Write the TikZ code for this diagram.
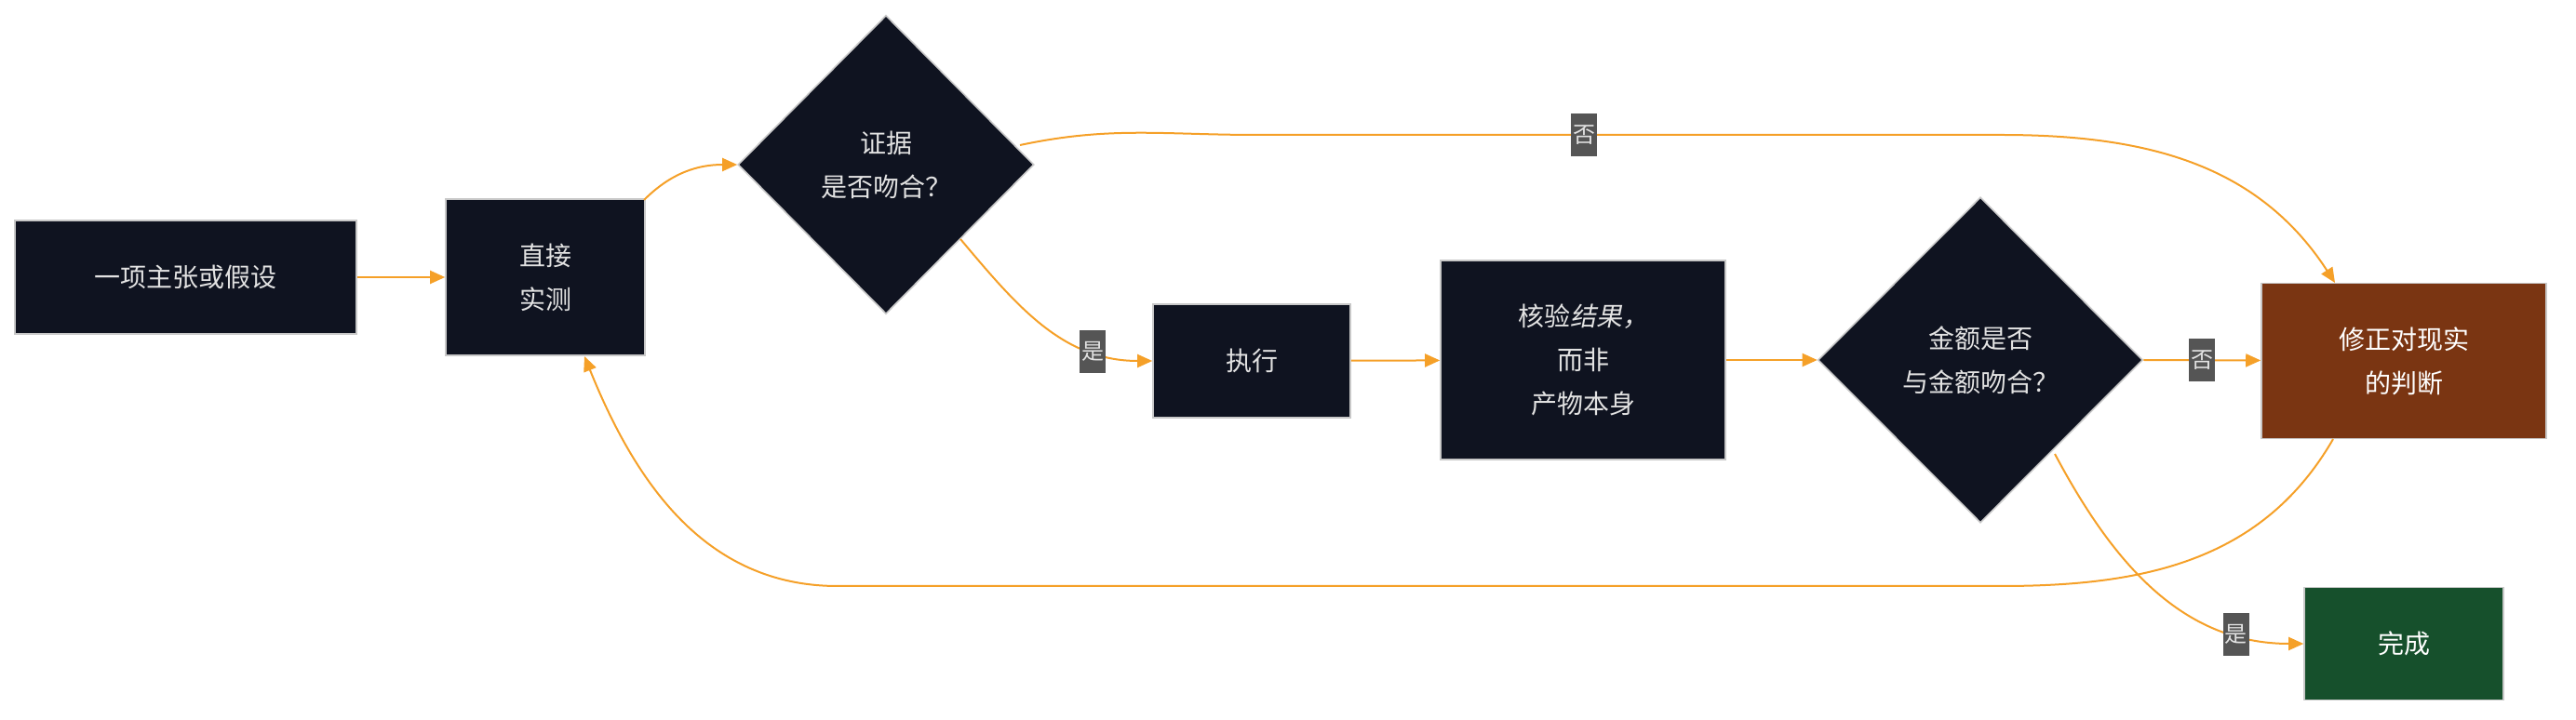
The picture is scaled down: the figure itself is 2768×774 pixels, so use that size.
\documentclass[tikz,border=0pt]{standalone}
\usepackage{fontspec}
\setmainfont{Noto Sans CJK SC}[AutoFakeSlant=0.2]
\usetikzlibrary{shapes.geometric,arrows.meta}
\definecolor{nd}{HTML}{0F1320}
\definecolor{bd}{HTML}{C8C8C8}
\definecolor{tx}{HTML}{E2E2E2}
\definecolor{og}{HTML}{F5A028}
\definecolor{rd}{HTML}{7A3512}
\definecolor{gn}{HTML}{16502C}
\definecolor{lb}{HTML}{555555}
\begin{document}
\begin{tikzpicture}[x=0.5pt,y=-0.5pt,
  box/.style={draw=bd,line width=0.8pt,fill=nd,text=tx,align=center,inner sep=0,font=\fontsize{14}{23.5}\selectfont},
  dia/.style={box,diamond},
  ed/.style={draw=og,line width=1pt,-{Triangle[length=8pt,width=7pt]}},
  ln/.style={draw=og,line width=1pt},
  lab/.style={fill=lb,text=tx,inner sep=1pt,minimum width=14pt,minimum height=23pt,font=\fontsize{12}{12}\selectfont}]
\useasboundingbox (0,0) rectangle (2768,774);
\node[box,minimum width=183.5pt,minimum height=61pt] (a) at (199.5,298) {一项主张或假设};
\node[box,minimum width=107pt,minimum height=84pt] (b) at (586,298) {直接\\实测};
\node[dia,minimum width=159pt,minimum height=160.5pt] (c) at (952,177) {证据\\是否吻合？};
\node[box,minimum width=106pt,minimum height=61pt] (d) at (1345,388) {执行};
\node[box,minimum width=153pt,minimum height=107pt] (e) at (1701,387) {核验\textit{结果，}\\而非\\产物本身};
\node[dia,minimum width=174.5pt,minimum height=175pt] (f) at (2128,387) {金额是否\\与金额吻合？};
\node[box,fill=rd,text=white,minimum width=153pt,minimum height=83.5pt] (g) at (2583,388) {修正对现实\\的判断};
\node[box,fill=gn,text=white,minimum width=107pt,minimum height=60.5pt] (h) at (2583,692) {完成};
\coordinate (c1) at (1096,156);
\coordinate (c2) at (1032,257);
\coordinate (u1) at (1350,145);
\coordinate (u2) at (2150,145);
\coordinate (g1) at (2509,304);
\coordinate (g2) at (2507,472);
\coordinate (w1) at (2150,630);
\coordinate (w2) at (900,630);
\coordinate (b1) at (628,383);
\coordinate (b2) at (692,215);
\coordinate (f1) at (2208,488);
\draw[ed] (a) -- (b);
\draw[ed] (b2) to[out=45,in=180] (c.west);
\draw[ed] (c2) to[out=-50,in=180] node[pos=0.75,lab]{是} (d.west);
\draw[ln] (c1) to[out=12,in=180] (u1) -- node[pos=0.44,lab]{否} (u2);
\draw[ed] (u2) to[out=0,in=123] (g1);
\draw[ed] (d) -- (e);
\draw[ed] (e) -- (f.west);
\draw[ed] (f.east) -- node[lab]{否} (g);
\draw[ed] (f1) to[out=-62,in=180] node[pos=0.8,lab]{是} (h.west);
\draw[ln] (g2) to[out=-120,in=0] (w1) -- (w2);
\draw[ed] (w2) to[out=180,in=-68] (b1);
\end{tikzpicture}
\end{document}
